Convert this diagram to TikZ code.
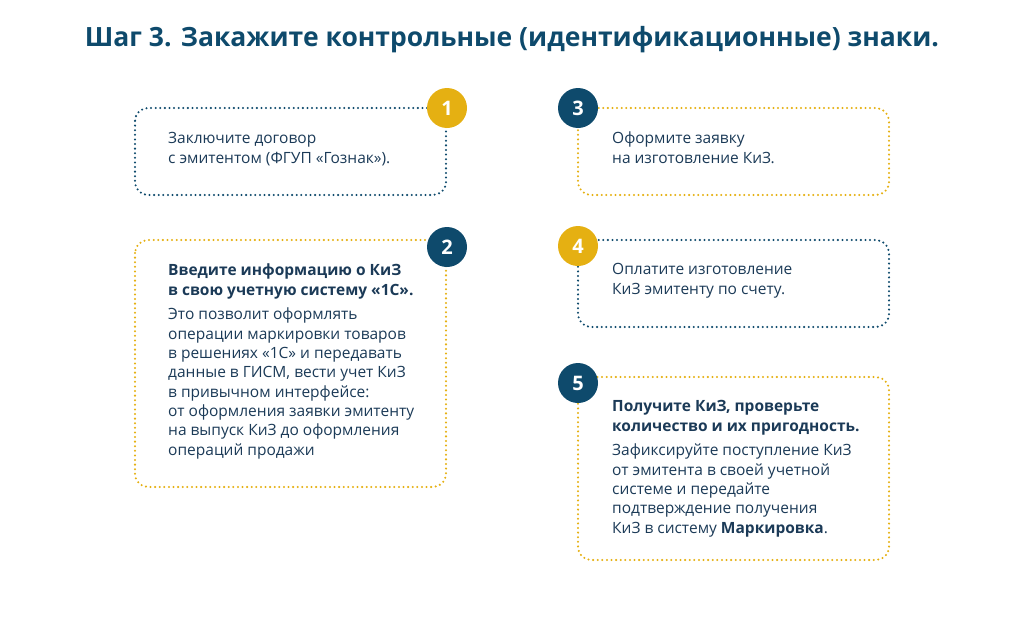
\documentclass[tikz,border=0pt]{standalone}
\usepackage{fontspec}
\setmainfont{Open Sans}
\definecolor{navy}{HTML}{0E4A6C}
\definecolor{gold}{HTML}{E5B012}
\definecolor{txt}{HTML}{1B3A57}
\begin{document}
\begin{tikzpicture}[x=1pt,y=-1pt,
 dotbox/.style={line width=2.3pt,dash pattern=on 0pt off 4.6pt,line cap=round,rounded corners=13pt},
 num/.style={circle,minimum size=40pt,inner sep=0pt,text=white,font=\fontsize{20}{20}\selectfont\bfseries},
 body/.style={anchor=north west,inner sep=0pt,align=left,text=txt,font=\fontsize{15.5}{20}\selectfont}]
\useasboundingbox (0,0) rectangle (1024,629);
\node[anchor=base,text=navy,font=\fontsize{26.5}{26}\selectfont\bfseries] (title) at (512,46) {Шаг 3. Закажите контрольные (идентификационные) знаки.};
% boxes
\draw[dotbox,navy] (135,108) rectangle (446,195);
\draw[dotbox,gold] (135,240) rectangle (446,487);
\draw[dotbox,gold] (578,108) rectangle (889,195);
\draw[dotbox,navy] (578,240) rectangle (889,327);
\draw[dotbox,gold] (578,377) rectangle (889,560);
% numbers
\node[num,fill=gold] (n1) at (447,108) {1};
\node[num,fill=navy] (n2) at (447,247) {2};
\node[num,fill=navy] (n3) at (578,108) {3};
\node[num,fill=gold] (n4) at (578,246) {4};
\node[num,fill=navy] (n5) at (578,383) {5};
% texts
\node[body] (t1) at (168,132) {Заключите договор\\с эмитентом (ФГУП «Гознак»).};
\node[body,font=\fontsize{15.5}{20}\selectfont\bfseries] (t2a) at (168,264) {Введите информацию о КиЗ\\в свою учетную систему «1С».};
\node[body,font=\fontsize{15.5}{19.3}\selectfont] (t2b) at (168,308) {Это позволит оформлять\\операции маркировки товаров\\в решениях «1С» и передавать\\данные в ГИСМ, вести учет КиЗ\\в привычном интерфейсе:\\от оформления заявки эмитенту\\на выпуск КиЗ до оформления\\операций продажи};
\node[body] (t3) at (612,132) {Оформите заявку\\на изготовление КиЗ.};
\node[body] (t4) at (612,263) {Оплатите изготовление\\КиЗ эмитенту по счету.};
\node[body,font=\fontsize{15.5}{20}\selectfont\bfseries] (t5a) at (612,400) {Получите КиЗ, проверьте\\количество и их пригодность.};
\node[body,font=\fontsize{15.5}{19.3}\selectfont] (t5b) at (612,444) {Зафиксируйте поступление КиЗ\\от эмитента в своей учетной\\системе и передайте\\подтверждение получения\\КиЗ в систему \textbf{Маркировка}.};
\end{tikzpicture}
\end{document}
